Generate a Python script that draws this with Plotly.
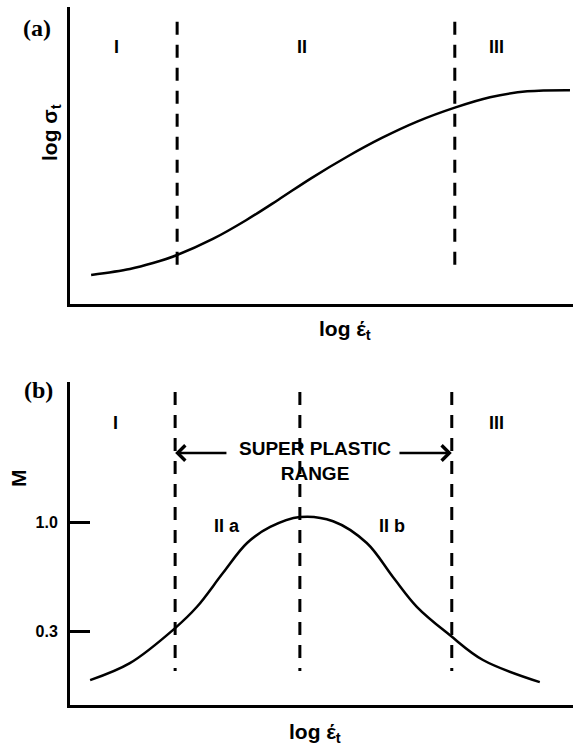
import plotly.graph_objects as go

# ---------------- data ----------------
# Panel (a): log flow stress vs log strain rate (arbitrary units 0-10)
strain_a = [0.42, 1.19, 1.65, 2.13, 2.84, 3.50, 4.15, 4.80, 5.50, 6.20, 6.90, 7.65, 8.35, 9.09, 9.94]
stress_a = [0.98, 1.18, 1.38, 1.65, 2.19, 2.82, 3.52, 4.24, 4.95, 5.59, 6.14, 6.61, 6.96, 7.16, 7.20]
bounds_a = [2.13, 7.65]
bound_span_a = [9.5, 1.08]
regions_a = ["I", "II", "III"]
region_x_a = [0.93, 4.61, 8.47]
region_y_a = 8.65

# Panel (b): strain-rate sensitivity M vs log strain rate
strain_b = [0.40, 1.19, 2.09, 2.52, 3.04, 3.52, 3.98, 4.57, 5.23, 5.90, 6.42, 6.90, 7.55, 8.21, 9.34]
m_b = [-0.015, 0.094, 0.319, 0.454, 0.672, 0.865, 0.968, 1.032, 1.005, 0.865, 0.647, 0.454, 0.274, 0.114, -0.028]
bounds_b = [2.09, 4.57, 7.59]
bound_span_b = [1.835, 0.043]
regions_b = ["I", "III"]
region_x_b = [0.91, 8.47]
region_y_b = 1.636
sub_regions = ["II a", "II b"]
sub_x = [3.12, 6.40]
sub_y = 0.974
m_ticks = [0.3, 1.0]
m_tick_text = ["0.3", "1.0"]
range_label = "SUPER PLASTIC<br>RANGE"
range_label_x = 4.87
range_label_y = 1.39
arrow_y = 1.443
arrow_tails = [3.14, 6.52]

W, H = 573, 752
SANS = "Liberation Sans, Arial, sans-serif"
SERIF = "Liberation Serif, Times New Roman, serif"
DASH = "13px,10px"

fig = go.Figure()

# curves
fig.add_trace(go.Scatter(x=strain_a, y=stress_a, mode="lines", line=dict(color="black", width=2.5, shape="spline"),
                         xaxis="x", yaxis="y", showlegend=False, hoverinfo="skip"))
fig.add_trace(go.Scatter(x=strain_b, y=m_b, mode="lines", line=dict(color="black", width=2.5, shape="spline"),
                         xaxis="x2", yaxis="y2", showlegend=False, hoverinfo="skip"))

# dashed boundaries
for b in bounds_a:
    fig.add_trace(go.Scatter(x=[b, b], y=bound_span_a, mode="lines", line=dict(color="black", width=3, dash=DASH),
                             xaxis="x", yaxis="y", showlegend=False, hoverinfo="skip"))
for b in bounds_b:
    fig.add_trace(go.Scatter(x=[b, b], y=bound_span_b, mode="lines", line=dict(color="black", width=3, dash=DASH),
                             xaxis="x2", yaxis="y2", showlegend=False, hoverinfo="skip"))

ann = []
bold18 = dict(family=SANS, size=18, color="black", weight="bold")
C = dict(xanchor="center", yanchor="middle", showarrow=False)
for t, x in zip(regions_a, region_x_a):
    ann.append(dict(x=x, y=region_y_a, xref="x", yref="y", text=t, font=bold18, **C))
for t, x in zip(regions_b, region_x_b):
    ann.append(dict(x=x, y=region_y_b, xref="x2", yref="y2", text=t, font=bold18, **C))
for t, x in zip(sub_regions, sub_x):
    ann.append(dict(x=x, y=sub_y, xref="x2", yref="y2", text=t, font=bold18, **C))
ann.append(dict(x=range_label_x, y=range_label_y, xref="x2", yref="y2", text=range_label,
                font=dict(family=SANS, size=19, color="black", weight="bold"), align="center", **C))
for head, tail in zip([bounds_b[0], bounds_b[2]], arrow_tails):
    ann.append(dict(x=head, y=arrow_y, ax=tail, ay=arrow_y, xref="x2", yref="y2", axref="x2", ayref="y2",
                    text="", showarrow=True, arrowhead=4, arrowsize=1.2, arrowwidth=2.5, arrowcolor="black"))

# panel labels and axis titles (paper coords)
def px(xp):
    return xp / W

def py(yp):
    return 1 - yp / H

serif_b = dict(family=SERIF, size=24, color="black", weight="bold")
sans_t = dict(family=SANS, size=21, color="black", weight="bold")
ann.append(dict(x=px(37), y=py(28), xref="paper", yref="paper", text="(a)", font=serif_b, **C))
ann.append(dict(x=px(38), y=py(390), xref="paper", yref="paper", text="(b)", font=serif_b, **C))
ann.append(dict(x=px(51), y=py(133), xref="paper", yref="paper", text="log σ<sub>t</sub>",
                textangle=-90, font=sans_t, **C))
ann.append(dict(x=px(19), y=py(478), xref="paper", yref="paper", text="M",
                textangle=-90, font=sans_t, **C))
ann.append(dict(x=px(345), y=py(330), xref="paper", yref="paper", text="log έ<sub>t</sub>", font=sans_t, **C))
ann.append(dict(x=px(315), y=py(733), xref="paper", yref="paper", text="log έ<sub>t</sub>", font=sans_t, **C))

axis_common = dict(showline=True, linewidth=3, linecolor="black", showgrid=False, zeroline=False)
x_dom = [70 / W, 1.0]

fig.update_layout(
    width=W, height=H,
    margin=dict(l=0, r=0, t=0, b=0),
    paper_bgcolor="white", plot_bgcolor="white",
    showlegend=False,
    annotations=ann,
    xaxis=dict(domain=x_dom, range=[0, 10], anchor="y", showticklabels=False, ticks="", **axis_common),
    yaxis=dict(domain=[py(304), py(7)], range=[0, 10], anchor="x", showticklabels=False, ticks="", **axis_common),
    xaxis2=dict(domain=x_dom, range=[0, 10], anchor="y2", showticklabels=False, ticks="", **axis_common),
    yaxis2=dict(domain=[py(705), py(382)], range=[-0.175, 1.899], anchor="x2",
                tickvals=m_ticks, ticktext=m_tick_text,
                ticks="inside", ticklen=20, tickwidth=3, tickcolor="black",
                ticklabelstandoff=6,
                tickfont=dict(family=SANS, size=16, color="black", weight="bold"), **axis_common),
)

fig.write_html("out.html")
